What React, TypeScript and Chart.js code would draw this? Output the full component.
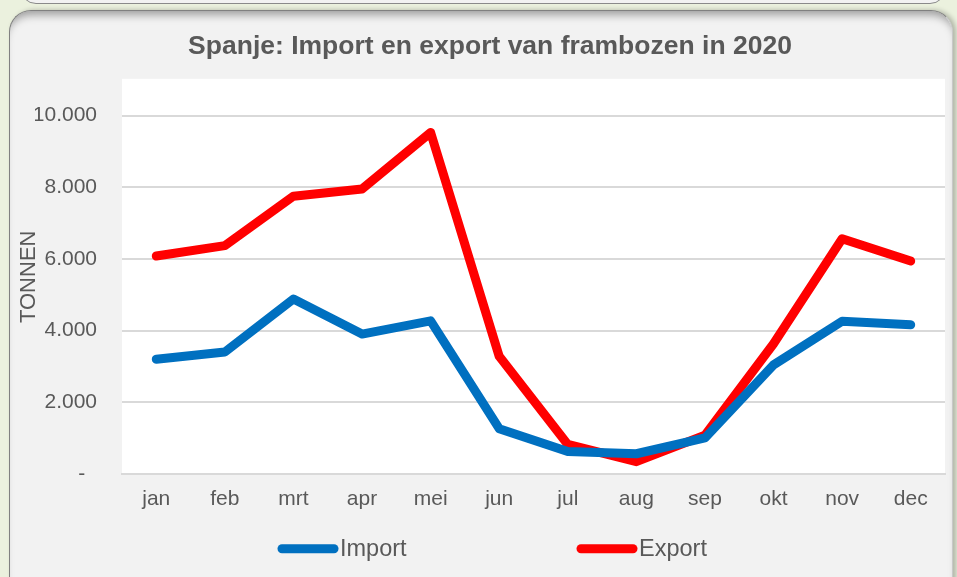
import React, { useEffect, useRef } from "react";
import { Chart, registerables } from "chart.js";

Chart.register(...registerables);

const TITLE = "Spanje: Import en export van frambozen in 2020";
const Y_TITLE = "TONNEN";
const MONTHS = ["jan", "feb", "mrt", "apr", "mei", "jun", "jul", "aug", "sep", "okt", "nov", "dec"];
const IMPORT = [3200, 3400, 4880, 3900, 4270, 1260, 620, 560, 1000, 3040, 4260, 4160];
const EXPORT = [6080, 6370, 7750, 7950, 9530, 3280, 820, 340, 1080, 3630, 6560, 5940];
const Y_MAX = 11000;
const Y_TICKS = [0, 2000, 4000, 6000, 8000, 10000];

const FONT = "'Liberation Sans', Arial, sans-serif";
const TEXT = "#595959";

function fmt(v: number): string {
  if (v === 0) return "-  ";
  return String(Math.round(v)).replace(/\B(?=(\d{3})+(?!\d))/g, ".");
}

const plotBg = {
  id: "plotBg",
  beforeDraw(chart: any) {
    const { ctx, chartArea } = chart;
    ctx.save();
    ctx.fillStyle = "#ffffff";
    ctx.fillRect(chartArea.left, chartArea.top - 1, chartArea.right - chartArea.left, chartArea.bottom - chartArea.top + 1);
    ctx.restore();
  },
};

const customLegend = {
  id: "customLegend",
  afterDraw(chart: any) {
    const { ctx, chartArea } = chart;
    const y = chartArea.bottom + 75;
    const starts = [278, 577];
    ctx.save();
    ctx.font = `23.5px ${FONT}`;
    ctx.textBaseline = "middle";
    ctx.textAlign = "left";
    chart.data.datasets.forEach((ds: any, i: number) => {
      const x = starts[i];
      ctx.strokeStyle = ds.borderColor;
      ctx.lineWidth = 9;
      ctx.lineCap = "round";
      ctx.beginPath();
      ctx.moveTo(x + 4, y);
      ctx.lineTo(x + 56, y);
      ctx.stroke();
      ctx.fillStyle = TEXT;
      ctx.fillText(ds.label, x + 62, y + 1);
    });
    ctx.restore();
  },
};

export default function App() {
  const ref = useRef<HTMLCanvasElement | null>(null);
  useEffect(() => {
    if (!ref.current) return;
    const chart = new Chart(ref.current, {
      type: "line",
      data: {
        labels: MONTHS,
        datasets: [
          {
            label: "Import",
            data: IMPORT,
            borderColor: "#0070c0",
            backgroundColor: "#0070c0",
            borderWidth: 9,
            pointRadius: 0,
            borderCapStyle: "round",
            borderJoinStyle: "round",
            tension: 0,
          },
          {
            label: "Export",
            data: EXPORT,
            borderColor: "#ff0000",
            backgroundColor: "#ff0000",
            borderWidth: 9,
            pointRadius: 0,
            borderCapStyle: "round",
            borderJoinStyle: "round",
            tension: 0,
          },
        ],
      },
      options: {
        animation: false,
        responsive: false,
        maintainAspectRatio: false,
        layout: { padding: { left: 35, right: 12, top: 16, bottom: 52 } },
        plugins: {
          legend: { display: false },
          tooltip: { enabled: false },
          title: {
            display: true,
            text: TITLE,
            color: TEXT,
            font: { family: FONT, size: 26.5, weight: "bold" },
            padding: { top: 15, bottom: 17 },
          },
        },
        scales: {
          x: {
            offset: true,
            grid: { display: false, drawTicks: false },
            border: { display: true, color: "#d9d9d9", width: 2 },
            ticks: { color: TEXT, font: { family: FONT, size: 21 }, padding: 13, maxRotation: 0 },
          },
          y: {
            min: 0,
            max: Y_MAX,
            afterFit(scale: any) {
              scale.width = 87;
            },
            afterBuildTicks(scale: any) {
              scale.ticks = Y_TICKS.map((v) => ({ value: v }));
            },
            grid: { color: "#d9d9d9", lineWidth: 2, drawTicks: false },
            border: { display: false },
            ticks: {
              color: TEXT,
              font: { family: FONT, size: 21 },
              padding: 25,
              callback: (v: any) => fmt(Number(v)),
            },
            title: {
              display: true,
              text: Y_TITLE,
              color: TEXT,
              font: { family: FONT, size: 22 },
              padding: { top: -19, bottom: 0 },
            },
          },
        },
      },
      plugins: [plotBg, customLegend],
    });
    return () => chart.destroy();
  }, []);

  return (
    <div style={{ position: "fixed", left: 0, top: 0, width: 957, height: 577, overflow: "hidden", background: "#ebf1de" }}>
      <div
        style={{
          position: "absolute",
          left: 20,
          top: -60,
          width: 924,
          height: 62,
          background: "#f2f2f2",
          border: "1.5px solid #8a8a8a",
          borderRadius: 16,
        }}
      />
      <div
        style={{
          position: "absolute",
          left: 9,
          top: 10,
          width: 942,
          height: 600,
          background: "#f2f2f2",
          border: "1.5px solid #808080",
          borderRightColor: "#c8c8c8",
          borderRadius: 22,
          boxShadow: "inset 0 9px 8px -5px rgba(0,0,0,0.35), 3px 0 5px rgba(0,0,0,0.25)",
        }}
      />
      <canvas ref={ref} width={957} height={577} style={{ position: "absolute", left: 0, top: 0 }} />
    </div>
  );
}
